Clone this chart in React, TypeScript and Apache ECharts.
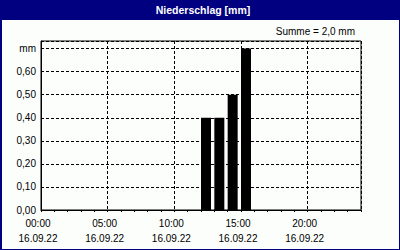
import React, { useEffect, useRef } from "react";
import * as echarts from "echarts";

const titleText = "Niederschlag [mm]";
const sumText = "Summe = 2,0 mm";
const dateLabel = "16.09.22";
const unitLabel = "mm";
const hours = [12, 13, 14, 15];
const values = [0.4, 0.4, 0.5, 0.7];
const xMin = 0;
const xMax = 24;
const xLabelStep = 5;
const yMin = 0;
const yMax = 0.733;
const yStep = 0.1;

const FONT = "'Liberation Sans', Arial, sans-serif";

export default function App() {
  const ref = useRef<HTMLDivElement>(null);
  useEffect(() => {
    document.body.style.margin = "0";
    const chart = echarts.init(ref.current!, null, { renderer: "svg" });
    const data = hours.map((h, i) => [h, values[i]]);
    chart.setOption({
      animation: false,
      backgroundColor: "#000080",
      textStyle: { fontFamily: FONT },
      graphic: [
        {
          type: "rect",
          z: -10,
          silent: true,
          shape: { x: 2, y: 20, width: 397, height: 229 },
          style: { fill: "#FCFEFC" },
        },
        {
          type: "text",
          x: 203,
          y: 10,
          style: {
            text: titleText,
            fill: "#ffffff",
            font: `bold 10.5px ${FONT}`,
            align: "center",
            verticalAlign: "middle",
          },
        },
        {
          type: "text",
          x: 355,
          y: 31,
          style: {
            text: sumText,
            fill: "#000000",
            font: `10px ${FONT}`,
            align: "right",
            verticalAlign: "middle",
          },
        },
      ],
      grid: {
        left: 41,
        right: 39,
        top: 41,
        bottom: 40,
        show: true,
        borderColor: "#000",
        borderWidth: 1,
        backgroundColor: "transparent",
      },
      xAxis: [
        {
          type: "value",
          min: xMin,
          max: xMax,
          interval: 1,
          position: "bottom",
          axisLine: { show: true, lineStyle: { color: "#000", width: 1 } },
          axisTick: { show: true, inside: false, length: 2, lineStyle: { color: "#000" } },
          splitLine: { show: false },
          axisLabel: {
            color: "#000",
            fontSize: 10,
            fontFamily: FONT,
            lineHeight: 15,
            margin: 6,
            padding: [0, 6, 0, 0],
            showMaxLabel: true,
            showMinLabel: true,
            hideOverlap: false,
            interval: 0,
            formatter: (v: number) => {
              if (v % xLabelStep !== 0 || v >= xMax) return "";
              const hh = String(v).padStart(2, "0");
              return `${hh}:00\n${dateLabel}`;
            },
          },
        },
        {
          type: "value",
          min: xMin,
          max: xMax,
          interval: xLabelStep,
          position: "bottom",
          axisLine: { show: false },
          axisTick: { show: false },
          axisLabel: { show: false },
          splitLine: {
            show: true,
            lineStyle: { color: "#000", width: 1, type: [3, 2] },
          },
        },
      ],
      yAxis: {
        type: "value",
        min: yMin,
        max: yMax,
        interval: yStep,
        axisLine: { show: true, lineStyle: { color: "#000" } },
        axisTick: { show: false },
        splitLine: {
          show: true,
          lineStyle: { color: "#000", width: 1, type: [3, 2] },
        },
        axisLabel: {
          color: "#000",
          fontSize: 10,
          fontFamily: FONT,
          margin: 5,
          showMaxLabel: false,
          formatter: (v: number) => {
            const k = Math.round(v / yStep);
            if (Math.abs(k * yStep - v) > 1e-6) return "";
            if (k === 7) return unitLabel;
            return v.toFixed(2).replace(".", ",");
          },
        },
      },
      series: [
        {
          type: "custom",
          xAxisIndex: 0,
          data,
          z: 1,
          renderItem: (params: any, api: any) => {
            const h = api.value(0);
            const v = api.value(1);
            const p0 = api.coord([h, v]);
            const p1 = api.coord([h + 1, 0]);
            const w = (p1[0] - p0[0]) * 0.75;
            return {
              type: "rect",
              shape: { x: p0[0], y: p0[1], width: w, height: p1[1] - p0[1] },
              style: { fill: "#000" },
            };
          },
        },
      ],
    });
    return () => chart.dispose();
  }, []);
  return (
    <div
      ref={ref}
      style={{ position: "fixed", left: 0, top: 0, width: 400, height: 250 }}
    />
  );
}
